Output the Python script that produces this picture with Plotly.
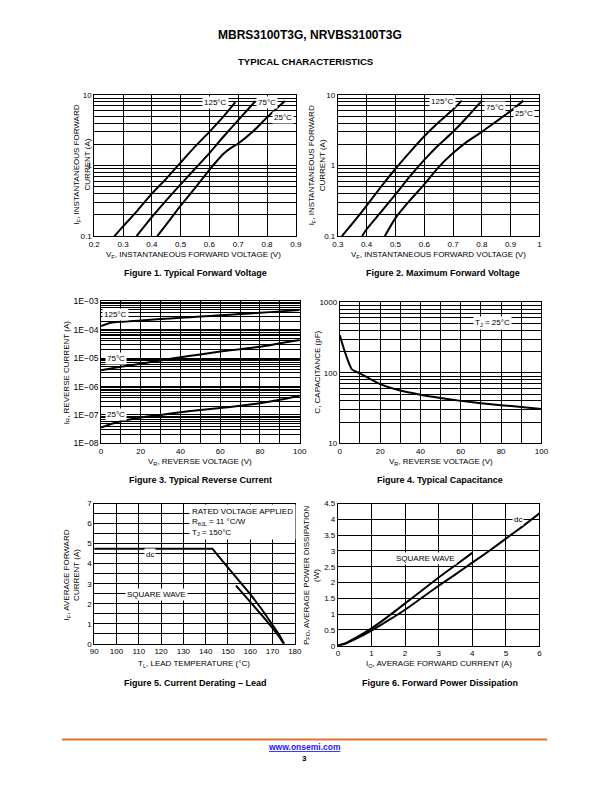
import math
import plotly.graph_objects as go

W, H = 612, 792          # reference page size
OFF = 8                  # browser body margin
FW, FH = W - OFF, H - 2 * OFF
FONT = "Liberation Sans, Arial, sans-serif"

# ---------------- data ----------------
# Figure 1: typical forward voltage
f1_vf_125 = [0.27, 0.30, 0.35, 0.40, 0.45, 0.50, 0.55, 0.60, 0.65, 0.69]
f1_if_125 = [0.10, 0.137, 0.23, 0.40, 0.65, 1.1, 1.85, 3.0, 5.0, 7.9]
f1_vf_75 = [0.347, 0.40, 0.45, 0.50, 0.55, 0.60, 0.65, 0.70, 0.76]
f1_if_75 = [0.10, 0.185, 0.32, 0.54, 0.90, 1.5, 2.6, 4.4, 8.2]
f1_vf_25 = [0.419, 0.45, 0.50, 0.55, 0.60, 0.625, 0.65, 0.675, 0.70, 0.75, 0.80, 0.862]
f1_if_25 = [0.10, 0.145, 0.27, 0.48, 0.87, 1.15, 1.48, 1.78, 2.05, 3.0, 4.8, 8.2]

# Figure 2: maximum forward voltage
f2_vf_125 = [0.314, 0.35, 0.40, 0.45, 0.50, 0.55, 0.60, 0.65, 0.70, 0.73]
f2_if_125 = [0.10, 0.15, 0.27, 0.50, 0.90, 1.55, 2.6, 4.1, 6.2, 8.3]
f2_vf_75 = [0.384, 0.40, 0.45, 0.50, 0.55, 0.60, 0.65, 0.70, 0.75, 0.80]
f2_if_75 = [0.10, 0.125, 0.22, 0.39, 0.70, 1.2, 1.95, 3.0, 4.9, 8.3]
f2_vf_25 = [0.463, 0.50, 0.55, 0.60, 0.65, 0.70, 0.75, 0.80, 0.85, 0.90, 0.944]
f2_if_25 = [0.10, 0.18, 0.32, 0.54, 0.95, 1.5, 2.2, 3.0, 4.2, 5.9, 8.3]

# Figure 3: typical reverse current
f3_vr = [0, 5, 10, 20, 30, 40, 50, 60, 70, 80, 90, 100]
f3_ir_125 = [1.35e-4, 1.75e-4, 1.9e-4, 2.1e-4, 2.35e-4, 2.6e-4, 2.9e-4, 3.2e-4, 3.55e-4, 3.9e-4, 4.4e-4, 4.9e-4]
f3_ir_75 = [3.7e-6, 4.3e-6, 5.0e-6, 6.3e-6, 8.3e-6, 1.07e-5, 1.35e-5, 1.7e-5, 2.05e-5, 2.5e-5, 3.3e-5, 4.3e-5]
f3_ir_25 = [3.6e-8, 4.8e-8, 6.0e-8, 8.1e-8, 1.0e-7, 1.25e-7, 1.5e-7, 1.74e-7, 2.1e-7, 2.6e-7, 3.4e-7, 4.7e-7]
f3_ticks = [1e-8, 1e-7, 1e-6, 1e-5, 1e-4, 1e-3]
f3_ticktext = ["1E−08", "1E−07", "1E−06", "1E−05", "1E−04", "1E−03"]

# Figure 4: typical capacitance
f4_vr = [0, 2, 4, 6, 10, 20, 30, 40, 50, 60, 70, 80, 90, 100]
f4_c = [340, 219, 150, 112, 98, 69, 56, 49, 44, 40, 37, 34.7, 32.8, 30.8]

# Figure 5: current derating - lead
f5_tl_dc = [90, 143, 150, 160, 165, 170, 173, 175.2]
f5_io_dc = [4.75, 4.75, 3.8, 2.48, 1.75, 0.95, 0.45, 0.0]
f5_tl_sq = [153.6, 160, 165, 170, 173, 175]
f5_io_sq = [2.9, 2.1, 1.45, 0.78, 0.35, 0.0]

# Figure 6: forward power dissipation
f6_io_dc = [0, 0.25, 0.5, 1, 1.5, 2, 2.5, 3, 3.5, 4, 4.5, 5, 5.5, 6]
f6_p_dc = [0, 0.08, 0.2, 0.48, 0.8, 1.14, 1.52, 1.9, 2.26, 2.63, 3.0, 3.39, 3.78, 4.19]
f6_io_sq = [0, 0.25, 0.5, 1, 1.5, 2, 2.5, 3, 3.5, 4]
f6_p_sq = [0, 0.09, 0.23, 0.55, 0.93, 1.34, 1.75, 2.16, 2.55, 2.94]

# ---------------- layout helpers ----------------
def px(x):
    return (x - OFF) / FW

def py(y):
    return 1 - (y - OFF) / FH

def dx(a, b):
    return [px(a), px(b)]

def dy(t, b):
    return [py(b), py(t)]

def log_minor(lo, hi):
    return [m * 10 ** e for e in range(lo, hi) for m in range(2, 10)]

TICKF = dict(family=FONT, size=8, color="black")
GRID = dict(showgrid=True, gridcolor="black", gridwidth=1, ticklen=0)

def base_axis(**kw):
    d = dict(showline=True, mirror=True, linecolor="black", linewidth=1,
             showgrid=True, gridcolor="black", gridwidth=1, zeroline=False,
             ticks="", tickfont=TICKF, fixedrange=True)
    d.update(kw)
    return d

fig = go.Figure()

def line(x, y, xa, ya, shape="spline"):
    fig.add_trace(go.Scatter(x=x, y=y, xaxis=xa, yaxis=ya, mode="lines",
                             line=dict(color="black", width=2, shape=shape,
                                       smoothing=0.6),
                             showlegend=False, hoverinfo="skip"))

line(f1_vf_125, f1_if_125, "x", "y")
line(f1_vf_75, f1_if_75, "x", "y")
line(f1_vf_25, f1_if_25, "x", "y")
line(f2_vf_125, f2_if_125, "x2", "y2")
line(f2_vf_75, f2_if_75, "x2", "y2")
line(f2_vf_25, f2_if_25, "x2", "y2")
line(f3_vr, f3_ir_125, "x3", "y3")
line(f3_vr, f3_ir_75, "x3", "y3")
line(f3_vr, f3_ir_25, "x3", "y3")
line(f4_vr, f4_c, "x4", "y4")
line(f5_tl_dc, f5_io_dc, "x5", "y5", shape="linear")
line(f5_tl_sq, f5_io_sq, "x5", "y5", shape="linear")
line(f6_io_dc, f6_p_dc, "x6", "y6")
line(f6_io_sq, f6_p_sq, "x6", "y6")

layout = dict(
    width=FW, height=FH, margin=dict(l=0, r=0, t=0, b=0),
    paper_bgcolor="white", plot_bgcolor="white",
    font=dict(family=FONT, size=8, color="black"),
    showlegend=False,
)

layout["xaxis"] = base_axis(domain=dx(90, 296), anchor="y", range=[0.2, 0.9], dtick=0.1, tick0=0.2)
layout["yaxis"] = base_axis(domain=dy(91, 234), anchor="x", type="log", range=[-1, 1],
                            tickvals=[0.1, 1, 10], ticktext=["0.1", "1", "10"],
                            minor=dict(tickvals=log_minor(-1, 1), **GRID))
layout["xaxis2"] = base_axis(domain=dx(339, 545), anchor="y2", range=[0.3, 1.0], dtick=0.1, tick0=0.3)
layout["yaxis2"] = base_axis(domain=dy(91, 234), anchor="x2", type="log", range=[-1, 1],
                             tickvals=[0.1, 1, 10], ticktext=["0.1", "1", "10"],
                             minor=dict(tickvals=log_minor(-1, 1), **GRID))
layout["xaxis3"] = base_axis(domain=dx(97, 300), anchor="y3", range=[0, 100], dtick=20,
                             minor=dict(dtick=10, **GRID))
layout["yaxis3"] = base_axis(domain=dy(300, 444), anchor="x3", type="log", range=[-8, -3],
                             tickvals=f3_ticks, ticktext=f3_ticktext,
                             tickfont=dict(family=FONT, size=8.5, color="black"),
                             minor=dict(tickvals=log_minor(-8, -3), **GRID))
layout["xaxis4"] = base_axis(domain=dx(341, 547), anchor="y4", range=[0, 100], dtick=20,
                             minor=dict(dtick=10, **GRID))
layout["yaxis4"] = base_axis(domain=dy(301, 444), anchor="x4", type="log", range=[1, 3],
                             tickvals=[10, 100, 1000], ticktext=["10", "100", "1000"],
                             minor=dict(tickvals=log_minor(1, 3), **GRID))
layout["xaxis5"] = base_axis(domain=dx(90, 295), anchor="y5", range=[90, 180], dtick=10)
layout["yaxis5"] = base_axis(domain=dy(505, 647), anchor="x5", range=[0, 7], dtick=1,
                             minor=dict(dtick=0.5, **GRID))
layout["xaxis6"] = base_axis(domain=dx(339, 545), anchor="y6", range=[0, 6], dtick=1)
layout["yaxis6"] = base_axis(domain=dy(505, 649), anchor="x6", range=[0, 4.5], dtick=0.5)

ann = []

def text(x, y, s, size=8, bold=False, angle=0, color="black", under=False):
    f = dict(family=FONT, size=size, color=color, weight="bold" if bold else "normal")
    if under:
        f["lineposition"] = "under"
    ann.append(dict(x=px(x), y=py(y), xref="paper", yref="paper", text=s, showarrow=False,
                    font=f, textangle=angle, xanchor="center", yanchor="middle", align="center"))

def label(xa, ya, x, y, s):
    ann.append(dict(x=x, y=y, xref=xa, yref=ya, text=s, showarrow=False,
                    font=dict(family=FONT, size=8, color="black"),
                    bgcolor="white", borderpad=1, xanchor="center", yanchor="middle"))

# header
text(310, 30, "MBRS3100T3G, NRVBS3100T3G", size=12, bold=True)
text(306, 57, "TYPICAL CHARACTERISTICS", size=9.6, bold=True)

# Figure 1
text(191, 253, "V<sub>F</sub>, INSTANTANEOUS FORWARD VOLTAGE (V)")
text(77, 162, "I<sub>F</sub>, INSTANTANEOUS FORWARD<br>CURRENT (A)", angle=-90)
text(193, 271, "Figure 1. Typical Forward Voltage", size=9, bold=True)
label("x", "y", 0.621, math.log10(7.7), "125°C")
label("x", "y", 0.800, math.log10(7.9), "75°C")
label("x", "y", 0.855, math.log10(4.8), "25°C")

# Figure 2
text(442, 253, "V<sub>F</sub>, INSTANTANEOUS FORWARD VOLTAGE (V)")
text(317, 162, "I<sub>F</sub>, INSTANTANEOUS FORWARD<br>CURRENT (A)", angle=-90)
text(446, 271, "Figure 2. Maximum Forward Voltage", size=9, bold=True)
label("x2", "y2", 0.662, math.log10(8.05), "125°C")
label("x2", "y2", 0.845, math.log10(6.6), "75°C")
label("x2", "y2", 0.947, math.log10(5.4), "25°C")

# Figure 3
text(198, 463, "V<sub>R</sub>, REVERSE VOLTAGE (V)")
text(62, 372, "I<sub>R</sub>, REVERSE CURRENT (A)", angle=-90)
text(199, 481, "Figure 3. Typical Reverse Current", size=9, bold=True)
label("x3", "y3", 7.4, -3.46, "125°C")
label("x3", "y3", 7.4, -5.03, "75°C")
label("x3", "y3", 7.4, -7.0, "25°C")

# Figure 4
text(444, 463, "V<sub>R</sub>, REVERSE VOLTAGE (V)")
text(318, 372, "C, CAPACITANCE (pF)", angle=-90)
text(443, 481, "Figure 4. Typical Capacitance", size=9, bold=True)
label("x4", "y4", 75.7, math.log10(515), "T<sub>J</sub> = 25°C")

# Figure 5
text(192, 667, "T<sub>L</sub>, LEAD TEMPERATURE (°C)")
text(67, 577, "I<sub>F</sub>, AVERAGE FORWARD<br>CURRENT (A)", angle=-90)
text(193, 687, "Figure 5. Current Derating – Lead", size=9, bold=True)
label("x5", "y5", 114.9, 4.45, "dc")
label("x5", "y5", 118, 2.45, "SQUARE WAVE")
ann.append(dict(x=132.5, y=6.1, xref="x5", yref="y5",
                text="RATED VOLTAGE APPLIED<br>R<sub>θJL</sub> = 11 °C/W<br>T<sub>J</sub> = 150°C",
                showarrow=False, align="left", xanchor="left", yanchor="middle",
                font=dict(family=FONT, size=8, color="black"), bgcolor="white", borderpad=2))

# Figure 6
text(442, 668, "I<sub>O</sub>, AVERAGE FORWARD CURRENT (A)")
text(312, 577, "P<sub>FO</sub>, AVERAGE POWER DISSIPATION<br>(W)", angle=-90)
text(443, 687, "Figure 6. Forward Power Dissipation", size=9, bold=True)
label("x6", "y6", 2.6, 2.75, "SQUARE WAVE")
label("x6", "y6", 5.35, 4.0, "dc")

# footer
text(305, 752, "www.onsemi.com", size=8.5, bold=True, color="#1a1aff", under=True)
text(305, 763, "3", size=8, bold=True)

layout["annotations"] = ann
layout["shapes"] = [dict(type="line", xref="paper", yref="paper",
                         x0=px(57), x1=px(553), y0=py(744), y1=py(744),
                         line=dict(color="#d9782d", width=2))]

fig.update_layout(**layout)
fig.write_html("out.html")
